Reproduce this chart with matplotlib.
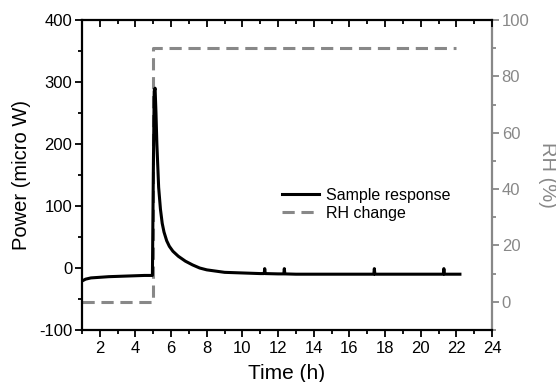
import matplotlib
matplotlib.use("Agg")
import matplotlib.pyplot as plt
from matplotlib.ticker import MultipleLocator

plt.rcParams['font.family'] = ['Liberation Sans', 'DejaVu Sans']
plt.rcParams['axes.unicode_minus'] = False

# Sample response (power, micro W)
time_h = [1.0, 1.2, 1.5, 2.0, 2.5, 3.0, 3.5, 4.0, 4.5, 4.95, 5.0, 5.05, 5.1, 5.15,
          5.2, 5.3, 5.4, 5.5, 5.6, 5.75, 5.9, 6.1, 6.4, 6.8, 7.2, 7.6, 8.0, 8.5,
          9.0, 10.0, 11.0, 11.22, 11.25, 11.28, 12.0, 12.32, 12.35, 12.38, 13.0,
          15.0, 17.37, 17.4, 17.43, 19.0, 21.27, 21.3, 21.33, 22.2]
power = [-21, -18, -16, -15, -14, -13.5, -13, -12.5, -12, -12, 150, 285, 290, 250,
         200, 130, 95, 72, 58, 44, 35, 27, 19, 11, 5, 0, -3, -5,
         -7, -8, -9, -9, -1, -9, -9.5, -9.5, -1, -9.5, -10,
         -10, -10, -1, -10, -10, -10, -1, -10, -10]

# RH change (%)
rh_time = [1.0, 5.0, 5.0, 22.0]
rh_value = [0, 0, 90, 90]

fig = plt.figure(figsize=(5.56, 3.82), dpi=100)
ax = fig.add_axes([82/556, 1-330/382, (492-82)/556, (330-20)/382])
ax2 = ax.twinx()

gray = '#888888'
l2, = ax2.plot(rh_time, rh_value, color=gray, lw=2.2, ls=(0, (4, 2.2)), label='RH change')
l1, = ax.plot(time_h, power, color='black', lw=2.2, label='Sample response')
ax.set_zorder(ax2.get_zorder() + 1)
ax.patch.set_visible(False)

ax.set_xlim(1, 24)
ax.set_ylim(-100, 400)
ax2.set_ylim(-10, 100)

ax.set_xticks([2, 4, 6, 8, 10, 12, 14, 16, 18, 20, 22, 24])
ax.xaxis.set_minor_locator(MultipleLocator(1))
ax.yaxis.set_major_locator(MultipleLocator(100))
ax.yaxis.set_minor_locator(MultipleLocator(50))
ax2.set_yticks([0, 20, 40, 60, 80, 100])
ax2.yaxis.set_minor_locator(MultipleLocator(10))

fs_tick = 12
ax.tick_params(axis='x', which='both', direction='out', top=True, labelsize=fs_tick, width=1.3, pad=3)
ax.tick_params(axis='x', which='major', length=5)
ax.tick_params(axis='x', which='minor', length=3)
ax.tick_params(axis='y', which='both', direction='out', labelsize=fs_tick, width=1.3, pad=2)
ax.tick_params(axis='y', which='major', length=5)
ax.tick_params(axis='y', which='minor', length=3)
for t in ax.xaxis.get_major_ticks() + ax.xaxis.get_minor_ticks():
    t.tick2line.set_marker(3)  # TICKDOWN: inward on top
ax2.tick_params(axis='y', which='both', direction='out', colors=gray, labelsize=fs_tick, width=1.3, pad=2)
ax2.tick_params(axis='y', which='major', length=5)
ax2.tick_params(axis='y', which='minor', length=3)

for s in ['left', 'bottom', 'top']:
    ax.spines[s].set_linewidth(1.6)
ax.spines['right'].set_visible(False)
ax2.spines['right'].set_color(gray)
ax2.spines['right'].set_linewidth(1.6)
for s in ['left', 'bottom', 'top']:
    ax2.spines[s].set_visible(False)

ax.set_xlabel('Time (h)', fontsize=15, labelpad=6)
ax.set_ylabel('Power (micro W)', fontsize=14.5, labelpad=6)
ax2.set_ylabel('RH (%)', fontsize=14.5, color=gray, rotation=270, labelpad=20)

ax.legend([l1, l2], ['Sample response', 'RH change'], loc='center left',
          bbox_to_anchor=(0.481, 0.406), frameon=False, fontsize=11.5,
          handlelength=2.3, handletextpad=0.45, labelspacing=0.2,
          borderpad=0.2, borderaxespad=0)

fig.savefig('out.png', dpi=100)
